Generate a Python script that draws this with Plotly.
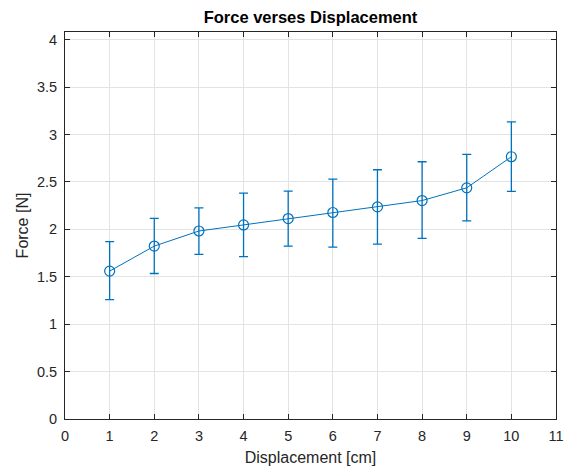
import plotly.graph_objects as go

displacement = [1, 2, 3, 4, 5, 6, 7, 8, 9, 10]
force = [1.559, 1.823, 1.982, 2.046, 2.113, 2.177, 2.236, 2.303, 2.437, 2.765]
err_upper = [1.870, 2.116, 2.225, 2.381, 2.402, 2.529, 2.628, 2.712, 2.790, 3.132]
err_lower = [1.259, 1.534, 1.735, 1.711, 1.823, 1.813, 1.844, 1.905, 2.088, 2.399]

plus = [u - f for u, f in zip(err_upper, force)]
minus = [f - l for f, l in zip(force, err_lower)]

blue = "#0072BD"
fig = go.Figure()
fig.add_trace(go.Scatter(
    x=displacement, y=force, mode="lines+markers",
    line=dict(color=blue, width=1),
    marker=dict(symbol="circle-open", size=10, color=blue, line=dict(width=1.2, color=blue)),
    error_y=dict(type="data", symmetric=False, array=plus, arrayminus=minus,
                 color=blue, thickness=1.3, width=4.5),
    showlegend=False,
))

axis_common = dict(
    showline=True, linecolor="#262626", linewidth=1, mirror="ticks",
    ticks="inside", ticklen=5, tickcolor="#262626", tickwidth=1,
    showgrid=True, gridcolor="#e3e3e3", gridwidth=1, zeroline=False,
    automargin=False,
    tickfont=dict(size=14.5, color="#262626", family="Liberation Sans, Arial"),
)

fig.update_layout(
    width=570, height=468,
    margin=dict(l=65, r=14, t=32, b=49, autoexpand=False),
    paper_bgcolor="white", plot_bgcolor="white",
    font=dict(family="Liberation Sans, Arial", color="#262626"),
    title=dict(text="<b>Force verses Displacement</b>", x=0.5, xanchor="center",
               xref="paper", y=1, yref="paper", yanchor="bottom", pad=dict(b=9),
               font=dict(size=16.5, color="black")),
    xaxis=dict(range=[0, 11], tickvals=list(range(0, 12)), ticklabelstandoff=4,
               title=dict(text="Displacement [cm]", font=dict(size=16), standoff=8), **axis_common),
    yaxis=dict(range=[0, 4.08], tickvals=[0, 0.5, 1, 1.5, 2, 2.5, 3, 3.5, 4],
               ticktext=["0", "0.5", "1", "1.5", "2", "2.5", "3", "3.5", "4"],
               ticklabelstandoff=4,
               title=dict(text="Force [N]", font=dict(size=16), standoff=4), **axis_common),
)

fig.write_html("out.html", config={"displayModeBar": False},
               post_script="document.body.style.margin='0';document.body.style.overflow='hidden';")
